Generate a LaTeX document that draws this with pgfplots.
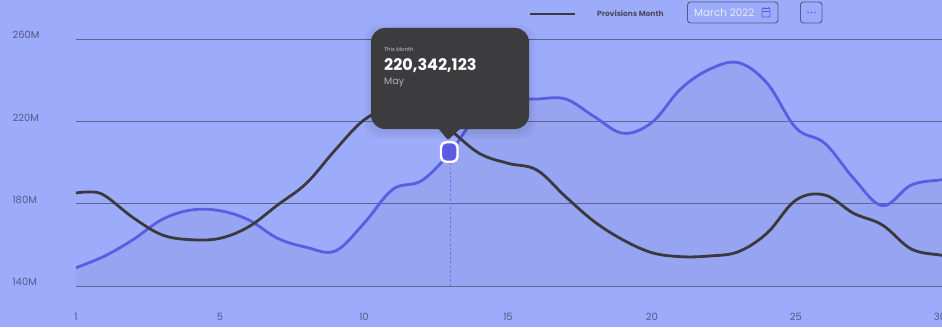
\documentclass[border=0pt]{standalone}
\usepackage{fontspec}
\setmainfont{Poppins}
\usepackage{pgfplots}
\usepackage{pgfplotstable}
\pgfplotsset{compat=1.18}

\definecolor{bgblue}{RGB}{157,171,251}
\definecolor{shade}{RGB}{110,118,178}
\definecolor{lineblue}{RGB}{92,92,226}
\definecolor{linedark}{RGB}{58,58,62}
\definecolor{gridc}{RGB}{96,100,140}
\definecolor{labelc}{RGB}{82,88,136}
\definecolor{tipc}{RGB}{60,60,62}

% x = position on the axis (tick label "1" sits at 0), y = millions
\pgfplotstableread{
x y
0 148.89
1 154.58
2 162.69
3 172.41
4 176.92
5 176.58
6 172.07
7 163.17
8 158.80
9 157.00
10 170.46
11 186.98
12 191.16
13 205.10
14 224.05
15 230.36
16 230.85
17 230.85
18 222.25
19 214.19
20 219.50
21 235.80
22 245.30
23 248.50
24 238.48
25 216.76
26 209.33
27 192.33
28 179.01
29 189.07
30 191.50
30.07 191.55
}\bluedata

\pgfplotstableread{
x y
0 185.18
0.5 185.70
1 183.90
2 173.04
3 164.78
4 162.49
5 163.17
6 168.81
7 179.35
8 189.90
9 206.07
10 220.65
11 226.96
12 226.96
13 215.79
14 204.47
15 199.61
16 196.36
17 183.39
18 171.24
19 162.35
20 156.18
21 154.24
22 154.58
23 156.66
24 165.75
25 181.78
26 184.21
27 175.32
28 169.64
29 157.98
30 155.06
30.07 155.05
}\darkdata

% rounded marker, 16.5 x 19.5 with 5pt corners
\pgfdeclareplotmark{pill}{%
  \pgfpathmoveto{\pgfpoint{-3.25pt}{-9.75pt}}%
  \pgfpathlineto{\pgfpoint{3.25pt}{-9.75pt}}%
  \pgfpathcurveto{\pgfpoint{6pt}{-9.75pt}}{\pgfpoint{8.25pt}{-7.5pt}}{\pgfpoint{8.25pt}{-4.75pt}}%
  \pgfpathlineto{\pgfpoint{8.25pt}{4.75pt}}%
  \pgfpathcurveto{\pgfpoint{8.25pt}{7.5pt}}{\pgfpoint{6pt}{9.75pt}}{\pgfpoint{3.25pt}{9.75pt}}%
  \pgfpathlineto{\pgfpoint{-3.25pt}{9.75pt}}%
  \pgfpathcurveto{\pgfpoint{-6pt}{9.75pt}}{\pgfpoint{-8.25pt}{7.5pt}}{\pgfpoint{-8.25pt}{4.75pt}}%
  \pgfpathlineto{\pgfpoint{-8.25pt}{-4.75pt}}%
  \pgfpathcurveto{\pgfpoint{-8.25pt}{-7.5pt}}{\pgfpoint{-6pt}{-9.75pt}}{\pgfpoint{-3.25pt}{-9.75pt}}%
  \pgfpathclose
  \pgfusepathqfillstroke
}

\begin{document}
\begin{tikzpicture}
% page background, in reference pixels
\useasboundingbox (-76pt,-41pt) rectangle (866pt,286pt);
\fill[bgblue] (-76pt,-41pt) rectangle (866pt,286pt);

\begin{axis}[
  at={(0pt,0pt)}, anchor=south west,
  scale only axis,
  width=866pt, height=247pt,
  xmin=0, xmax=30.07,
  ymin=140, ymax=260,
  axis line style={draw=none},
  major tick length=0pt,
  xtick pos=lower, ytick pos=left,
  xtick={0,5,10,15,20,25,30},
  xticklabels={1,5,10,15,20,25,30},
  ytick={140,180,220,260},
  yticklabels={140M,180M,220M,260M},
  ymajorgrids,
  grid style={gridc, line width=0.8pt},
  tick label style={font=\fontsize{10}{11}\selectfont, text=labelc},
  xticklabel style={anchor=center, yshift=-31pt},
  yticklabel style={anchor=west, xshift=-67pt, yshift=4pt},
  clip=true,
  smooth, tension=0.6,
]
\addplot[draw=none, fill=shade, fill opacity=0.13] table[x=x,y=y] {\bluedata} \closedcycle;
\addplot[lineblue!70!bgblue, line width=0.7pt, dash pattern=on 2.5pt off 2pt, sharp plot, forget plot] coordinates {(12.99,140) (12.99,205.1)};
\addplot[lineblue, line width=2.8pt] table[x=x,y=y] {\bluedata};
\addplot[linedark, line width=2.8pt] table[x=x,y=y] {\darkdata};
\addplot[only marks, mark=pill, mark options={draw=white, fill=lineblue, line width=2.4pt}] coordinates {(12.96,205.1)};
\end{axis}

% tooltip and header controls, in reference pixels
\begin{scope}[shift={(-76pt,286pt)},x=1pt,y=-1pt]
  \foreach \g in {7,6,5,4,3,2,1}
    \fill[black, opacity=0.012, rounded corners=15pt] (371-\g,28-\g+3) rectangle (529+\g,129+\g+3);
  \fill[tipc] (438,128) -- (447,139) to[out=0,in=180] (449,139) -- (461,128) -- cycle;
  \fill[tipc, rounded corners=14pt] (371,28) rectangle (529,129);
  \node[anchor=west, inner sep=0pt, text=white!70!tipc, font=\fontsize{5.5}{6}\selectfont] at (384,49.5) {This Month};
  \node[anchor=west, inner sep=0pt, text=white, font=\fontsize{16}{17}\selectfont\bfseries] at (384,65.5) {220,342,123};
  \node[anchor=west, inner sep=0pt, text=white!60!tipc, font=\fontsize{9.5}{10}\selectfont] at (384,82) {May};

  \draw[linedark, line width=2.8pt] (530,14) -- (575,14);
  \node[anchor=west, inner sep=0pt, text=linedark!85!bgblue, font=\fontsize{7.5}{8}\selectfont\bfseries] at (597,13.5) {Provisions Month};

  \draw[labelc, line width=0.9pt, rounded corners=3pt] (687.5,2) rectangle (778,23);
  \node[anchor=west, inner sep=0pt, text=white!75!bgblue, font=\fontsize{10.4}{11}\selectfont] at (694,13) {March 2022};
  \draw[lineblue, line width=0.7pt, rounded corners=1pt] (762,8.5) rectangle (770,17);
  \draw[lineblue, line width=0.7pt] (762,11) -- (770,11) (764,7.5) -- (764,9) (768,7.5) -- (768,9);

  \draw[labelc, line width=0.9pt, rounded corners=3pt] (800.5,2) rectangle (822,23);
  \fill[lineblue] (808,12.5) circle (0.9) (811.5,12.5) circle (0.9) (815,12.5) circle (0.9);
\end{scope}
\end{tikzpicture}
\end{document}
